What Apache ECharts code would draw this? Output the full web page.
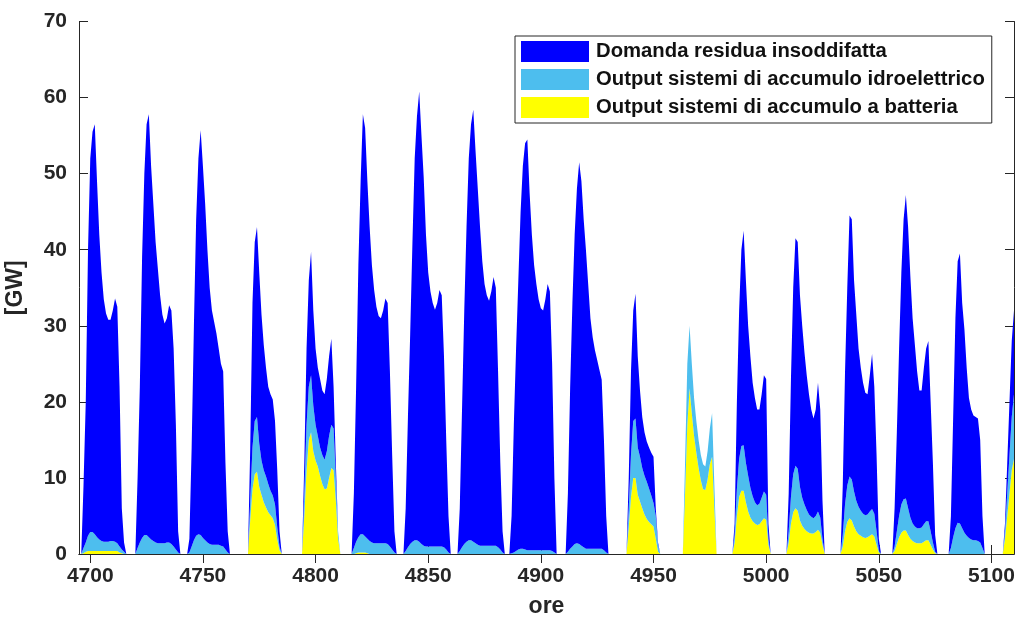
<!DOCTYPE html>
<html>
<head>
<meta charset="utf-8">
<title>Domanda residua e accumuli</title>
<script src="https://cdn.jsdelivr.net/npm/echarts@6/dist/echarts.min.js"></script>
<style>
  html, body { margin: 0; padding: 0; background: #fff; }
  #chart { width: 1018px; height: 620px; }
</style>
</head>
<body>
<div id="chart"></div>
<script>
// Hourly axis: one category per hour, 4695 … 5110
const HOUR_FIRST = 4695;
const HOUR_LAST = 5110;
const hours = [];
for (let h = HOUR_FIRST; h <= HOUR_LAST; h++) hours.push(String(h));

// Labelled hours on the x axis
const xTickHours = [4700, 4750, 4800, 4850, 4900, 4950, 5000, 5050, 5100];
const yTicks = { min: 0, max: 70, step: 10 };

const seriesNames = [
  'Domanda residua insoddifatta',
  'Output sistemi di accumulo idroelettrico',
  'Output sistemi di accumulo a batteria'
];

// Unmet residual demand [GW], one value per hour (rows of 24 h from 4696)
const unmet = [
  0,
  0, 8.2, 18.5, 37.6, 49.1, 52.6, 53.9, 46.8, 40.1, 35.3, 31.9, 30.0, 29.2, 29.1, 30.3, 32.0, 31.1, 21.0, 5.4, 1.2, 0, 0, 0, 0,
  0, 9.2, 20.5, 36.9, 47.5, 54.0, 55.6, 49.1, 44.3, 39.5, 36.1, 32.6, 30.1, 28.9, 29.5, 31.2, 30.7, 26.0, 16.4, 2.8, 0, 0, 0, 0,
  1.8, 13.0, 28.2, 41.6, 49.4, 53.2, 48.9, 44.2, 38.5, 33.7, 30.8, 29.3, 27.8, 25.8, 23.9, 23.0, 11.4, 2.8, 0, 0, 0, 0, 0, 0,
  0, 0, 0, 7, 19, 23.5, 25, 22.5, 19.2, 16.5, 14.3, 12.8, 12.7, 12.6, 11, 7.5, 2, 0, 0, 0, 0, 0, 0, 0,
  0, 0, 0, 4, 10, 14, 16.2, 12.5, 10, 9, 9, 8.5, 8.6, 9.5, 10.5, 11.3, 5.5, 2, 0, 0, 0, 0, 0, 0,
  0, 7.2, 20.4, 35.8, 46.4, 55.2, 53.7, 47.0, 41.3, 36.5, 33.3, 31.1, 29.9, 29.6, 30.6, 32.2, 31.7, 23.0, 12.4, 2.8, 0, 0, 0, 0,
  5.6, 17.1, 27.7, 39.4, 50.2, 55.7, 59.2, 53.7, 48.4, 41, 36, 33.5, 32, 31.1, 32, 33.7, 33, 25.1, 14.4, 4.8, 0, 0, 0, 0,
  5.6, 18.1, 30.7, 41.4, 50.2, 54.7, 56.8, 51.6, 46.8, 41.9, 37.4, 34.4, 32.9, 32.2, 33.4, 35.3, 33.9, 23.1, 11.4, 2.8, 0, 0, 0, 4.9,
  16.8, 26.6, 35.4, 44.3, 50.3, 53.4, 54, 47, 41.5, 37.5, 35, 33, 31.8, 31.5, 33, 35, 34, 24.6, 9.8, 0, 0, 0, 0, 0,
  7.7, 21.3, 32, 40.7, 46.6, 50.2, 47.9, 43.1, 39.3, 34.8, 30.3, 27.8, 26.1, 24.8, 23.5, 22.2, 14.5, 4.8, 0, 0, 0, 0, 0, 0,
  0, 0, 0, 4, 11, 14.5, 16.4, 12, 8.7, 6.7, 5.7, 5.3, 5.4, 5.6, 6.1, 1, 0.3, 0, 0, 0, 0, 0, 0, 0,
  0, 0, 0, 0, 0, 0, 0, 0, 0, 0, 0, 0, 0, 0, 0, 0, 0, 0, 0, 0, 0, 0, 0, 0,
  0, 0, 1.5, 11.5, 19.5, 25.8, 28.2, 24, 19.7, 17.3, 14.9, 13.7, 12.6, 12.4, 13.6, 15.3, 15.2, 2, 0, 0, 0, 0, 0, 0,
  0, 0, 5, 15.5, 24.5, 29.9, 29.8, 25.2, 22.6, 20, 17.7, 15.8, 14.1, 13.1, 14, 16.9, 14.2, 5, 0, 0, 0, 0, 0, 0,
  0, 0, 6.5, 17.5, 26, 34.3, 34.2, 27.8, 24.5, 20.8, 18.8, 17.2, 16.1, 15.8, 17.9, 20.4, 16.7, 10, 1.5, 0, 0, 0, 0, 0,
  0, 5, 13, 22, 30.5, 36.8, 39.9, 37, 31.7, 27, 23.9, 20.6, 18.1, 18, 20.6, 22.7, 23.7, 17, 10.5, 2.2, 0, 0, 0, 0,
  0, 0, 4.2, 15.8, 27.6, 34.4, 35.5, 29.6, 26.7, 22.1, 18.4, 17.1, 16.4, 16.2, 16.1, 13.5, 4.2, 0, 0, 0, 0, 0, 0, 0,
  0, 0, 1, 4, 7, 10, 11
];

// Pumped-hydro storage output [GW]
const hydro = [
  0,
  0, 0.7, 1.2, 2.0, 2.5, 2.5, 2.2, 1.8, 1.5, 1.3, 1.2, 1.2, 1.2, 1.3, 1.3, 1.2, 1.0, 0.8, 0.5, 0.3, 0, 0, 0, 0,
  0, 0.8, 1.5, 2.1, 2.5, 2.5, 2.2, 1.9, 1.7, 1.5, 1.4, 1.4, 1.4, 1.4, 1.5, 1.5, 1.3, 1.0, 0.6, 0.2, 0, 0, 0, 0,
  0.2, 1, 1.8, 2.4, 2.6, 2.5, 2.1, 1.8, 1.5, 1.3, 1.2, 1.2, 1.2, 1.2, 1.1, 1.0, 0.6, 0.2, 0, 0, 0, 0, 0, 0,
  0, 0, 0, 2.5, 5.5, 7.0, 7.2, 5.7, 4.5, 4.2, 4.1, 3.7, 3.2, 3.0, 2.7, 1.6, 0.5, 0, 0, 0, 0, 0, 0, 0,
  0, 0, 0, 3, 6, 7, 7.5, 6, 4.7, 4, 3.7, 3.8, 3.9, 4.9, 5.5, 5.7, 5.5, 3, 1, 0, 0, 0, 0, 0,
  0, 0.8, 1.5, 2.0, 2.4, 2.4, 2.1, 1.9, 1.7, 1.5, 1.4, 1.4, 1.4, 1.4, 1.4, 1.4, 1.3, 1.0, 0.6, 0.2, 0, 0, 0, 0,
  0.4, 0.9, 1.3, 1.6, 1.8, 1.8, 1.6, 1.3, 1.1, 1.0, 1.0, 1.0, 1.0, 1.0, 1.0, 1.0, 1.0, 0.9, 0.6, 0.2, 0, 0, 0, 0,
  0.4, 0.9, 1.3, 1.6, 1.8, 1.8, 1.6, 1.4, 1.2, 1.1, 1.1, 1.1, 1.1, 1.1, 1.1, 1.1, 1.1, 0.9, 0.6, 0.2, 0, 0, 0, 0.1,
  0.2, 0.4, 0.6, 0.7, 0.7, 0.6, 0.5, 0.5, 0.5, 0.5, 0.5, 0.5, 0.5, 0.5, 0.5, 0.5, 0.5, 0.4, 0.2, 0, 0, 0, 0, 0,
  0.3, 0.7, 1.0, 1.3, 1.4, 1.3, 1.1, 0.9, 0.7, 0.7, 0.7, 0.7, 0.7, 0.7, 0.7, 0.7, 0.5, 0.2, 0, 0, 0, 0, 0, 0,
  0, 0, 0, 2.5, 5.5, 7.5, 7.8, 6.2, 5.9, 5.3, 5.1, 4.9, 4.4, 3.8, 3.1, 3, 0.9, 0, 0, 0, 0, 0, 0, 0,
  0, 0, 0, 0, 4, 8, 8.2, 6.5, 5, 4.2, 3.7, 3.3, 3.3, 3.1, 3.7, 4.7, 5.7, 3, 0, 0, 0, 0, 0, 0,
  0, 0, 1, 3.5, 5, 5.9, 6, 5.2, 4.7, 3.9, 3.3, 2.8, 2.6, 2.7, 3.1, 3.5, 3.3, 0.8, 0, 0, 0, 0, 0, 0,
  0, 0, 1.5, 3.5, 5, 5.6, 5.5, 4.4, 3.7, 3.2, 2.8, 2.4, 2.2, 2, 2.1, 2.4, 2, 0.8, 0, 0, 0, 0, 0, 0,
  0, 0, 1.5, 3.5, 4.8, 5.5, 5.4, 4.6, 4, 3.6, 3.3, 3.1, 3, 3, 3.2, 3.3, 3, 1.8, 0.3, 0, 0, 0, 0, 0,
  0, 0.6, 1.7, 2.8, 3.7, 4.1, 4.2, 3.5, 2.8, 2.3, 2.1, 2, 2, 2.1, 2.3, 2.5, 2.5, 1.8, 0.9, 0.2, 0, 0, 0, 0,
  0, 0, 0.8, 2.2, 3.4, 4.1, 4, 3.4, 2.8, 2.4, 2.1, 1.9, 1.8, 1.8, 1.7, 1.5, 0.8, 0, 0, 0, 0, 0, 0, 0,
  0, 0, 1, 3, 5, 7, 8.5
];

// Battery storage output [GW]
const battery = [
  0,
  0, 0.1, 0.3, 0.4, 0.4, 0.4, 0.4, 0.4, 0.4, 0.4, 0.4, 0.4, 0.4, 0.4, 0.4, 0.4, 0.4, 0.2, 0.1, 0, 0, 0, 0, 0,
  0, 0, 0, 0, 0, 0, 0, 0, 0, 0, 0, 0, 0, 0, 0, 0, 0, 0, 0, 0, 0, 0, 0, 0,
  0, 0, 0, 0, 0, 0, 0, 0, 0, 0, 0, 0, 0, 0, 0, 0, 0, 0, 0, 0, 0, 0, 0, 0,
  0, 0, 0, 4.5, 8.5, 10.5, 10.8, 8.8, 7.8, 6.8, 6.1, 5.5, 5.1, 4.7, 3.8, 1.9, 0.5, 0, 0, 0, 0, 0, 0, 0,
  0, 0, 0, 5, 11, 15, 16, 13.5, 12.3, 11.5, 10.3, 9.2, 8.5, 8.6, 10, 11.3, 11, 7, 2, 0, 0, 0, 0, 0,
  0, 0, 0.1, 0.2, 0.2, 0.2, 0.2, 0.1, 0, 0, 0, 0, 0, 0, 0, 0, 0, 0, 0, 0, 0, 0, 0, 0,
  0, 0, 0, 0, 0, 0, 0, 0, 0, 0, 0, 0, 0, 0, 0, 0, 0, 0, 0, 0, 0, 0, 0, 0,
  0, 0, 0, 0, 0, 0, 0, 0, 0, 0, 0, 0, 0, 0, 0, 0, 0, 0, 0, 0, 0, 0, 0, 0,
  0, 0, 0, 0, 0, 0, 0, 0, 0, 0, 0, 0, 0, 0, 0, 0, 0, 0, 0, 0, 0, 0, 0, 0,
  0, 0, 0, 0, 0, 0, 0, 0, 0, 0, 0, 0, 0, 0, 0, 0, 0, 0, 0, 0, 0, 0, 0, 0,
  0, 0, 0, 3.5, 7.5, 10, 10, 7.8, 6.9, 6, 5.2, 4.6, 4.2, 3.9, 3.6, 2, 0.3, 0, 0, 0, 0, 0, 0, 0,
  0, 0, 0, 0, 8, 17, 21.8, 18.5, 15.5, 13.3, 11.3, 9.7, 8.5, 8.4, 9.8, 11.8, 12.8, 6, 0, 0, 0, 0, 0, 0,
  0, 0, 1.5, 5, 7.5, 8.3, 8.3, 6.8, 5.6, 4.8, 4.3, 4.0, 3.8, 3.9, 4.3, 4.7, 4.5, 1.2, 0, 0, 0, 0, 0, 0,
  0, 0, 1.5, 4, 5.5, 6, 5.7, 4.4, 3.7, 3.3, 3.0, 2.8, 2.7, 2.7, 2.9, 3.2, 2.8, 1.2, 0, 0, 0, 0, 0, 0,
  0, 0, 1, 3, 4.2, 4.7, 4.4, 3.6, 3, 2.6, 2.4, 2.2, 2.1, 2.2, 2.4, 2.6, 2.3, 1.2, 0.2, 0, 0, 0, 0, 0,
  0, 0.4, 1.3, 2.2, 2.8, 3.1, 3.1, 2.5, 2, 1.7, 1.5, 1.4, 1.4, 1.4, 1.6, 1.8, 1.8, 1.2, 0.6, 0.1, 0, 0, 0, 0,
  0, 0, 0, 0, 0, 0, 0, 0, 0, 0, 0, 0, 0, 0, 0, 0, 0, 0, 0, 0, 0, 0, 0, 0,
  0, 0, 2, 5, 8, 11, 12.5
];

const COLORS = { unmet: '#0000FF', hydro: '#4DBEEE', battery: '#FFFF00' };
const INK = '#262626';
const FONT = '"Liberation Sans", Arial, Helvetica, sans-serif';

const tickSet = new Set(xTickHours.map(String));
const isTick = (idx, val) => tickSet.has(String(val));

function areaSeries(name, data, color) {
  return {
    name: name,
    type: 'line',
    stack: 'storage',
    data: data,
    symbol: 'none',
    smooth: false,
    lineStyle: { width: 0, color: color },
    itemStyle: { color: color },
    areaStyle: { color: color, opacity: 1 },
    emphasis: { disabled: true }
  };
}

const axisLineStyle = { show: true, lineStyle: { color: INK, width: 1 } };

const chart = echarts.init(document.getElementById('chart'), null, { renderer: 'canvas' });
chart.setOption({
  animation: false,
  backgroundColor: '#ffffff',
  textStyle: { fontFamily: FONT },
  grid: { left: 79, right: 4, top: 21.5, bottom: 66, containLabel: false, outerBoundsMode: 'none' },
  legend: {
    orient: 'vertical',
    left: 515,
    top: 36,
    padding: [5, 7, 5, 6],
    itemWidth: 68,
    itemHeight: 21,
    itemGap: 7,
    icon: 'rect',
    backgroundColor: '#ffffff',
    borderColor: INK,
    borderWidth: 1,
    borderRadius: 0,
    data: seriesNames,
    selectedMode: false,
    textStyle: { fontSize: 20.3, fontWeight: 'bold', color: '#111111', fontFamily: FONT, padding: [0, 0, 0, 2] }
  },
  xAxis: [
    {
      type: 'category',
      data: hours,
      boundaryGap: false,
      position: 'bottom',
      name: 'ore',
      nameLocation: 'middle',
      nameGap: 41,
      nameTextStyle: { fontSize: 23, fontWeight: 'bold', color: INK, fontFamily: FONT },
      axisLine: axisLineStyle,
      axisTick: { show: true, inside: true, length: 9, interval: isTick, lineStyle: { color: INK } },
      axisLabel: { interval: isTick, fontSize: 21, fontWeight: 'bold', color: INK, margin: 12, fontFamily: FONT },
      splitLine: { show: false }
    },
    {
      type: 'category',
      data: hours,
      boundaryGap: false,
      position: 'top',
      axisLine: axisLineStyle,
      axisTick: { show: true, inside: true, length: 9, interval: isTick, lineStyle: { color: INK } },
      axisLabel: { show: false },
      splitLine: { show: false }
    }
  ],
  yAxis: [
    {
      type: 'value',
      min: yTicks.min,
      max: yTicks.max,
      interval: yTicks.step,
      position: 'left',
      name: '[GW]',
      nameLocation: 'middle',
      nameRotate: 90,
      nameGap: 52,
      nameTextStyle: { fontSize: 23, fontWeight: 'bold', color: INK, fontFamily: FONT },
      axisLine: axisLineStyle,
      axisTick: { show: true, inside: true, length: 9, lineStyle: { color: INK } },
      axisLabel: { fontSize: 21, fontWeight: 'bold', color: INK, margin: 12, fontFamily: FONT },
      splitLine: { show: false }
    },
    {
      type: 'value',
      min: yTicks.min,
      max: yTicks.max,
      interval: yTicks.step,
      position: 'right',
      axisLine: axisLineStyle,
      axisTick: { show: true, inside: true, length: 9, lineStyle: { color: INK } },
      axisLabel: { show: false },
      splitLine: { show: false }
    }
  ],
  series: [
    areaSeries(seriesNames[2], battery, COLORS.battery),
    areaSeries(seriesNames[1], hydro, COLORS.hydro),
    areaSeries(seriesNames[0], unmet, COLORS.unmet)
  ]
});
</script>
</body>
</html>
